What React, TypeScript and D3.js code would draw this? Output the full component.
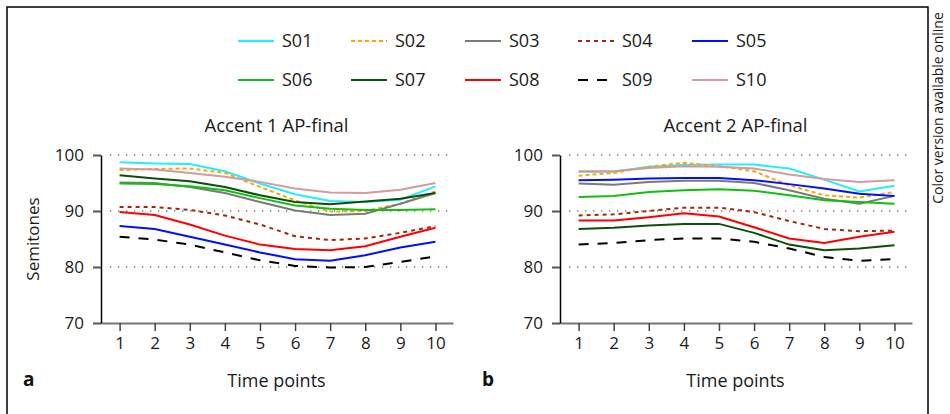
import * as React from 'react';
import * as d3 from 'd3';

const timePoints = [1, 2, 3, 4, 5, 6, 7, 8, 9, 10];
const yTicks = [70, 80, 90, 100];
const gridTicks = [80, 90, 100];

const speakers = ['S01', 'S02', 'S03', 'S04', 'S05', 'S06', 'S07', 'S08', 'S09', 'S10'];
const colors = ['#22eeff', '#ffa500', '#7a7a7a', '#a0280a', '#0010ff', '#10c010', '#0a500a', '#ff0000', '#000000', '#d49a9e'];
const dashes = ['', '4,3', '', '4,4', '', '', '', '', '10,9', ''];

// Accent 1 AP-final
const accent1: number[][] = [
  [98.7, 98.5, 98.4, 97.1, 94.9, 93.0, 91.8, 91.6, 92.0, 94.4],
  [97.3, 97.5, 97.6, 96.8, 94.3, 91.9, 89.9, 90.0, 91.3, 93.5],
  [95.1, 95.0, 94.3, 93.2, 91.6, 90.1, 89.3, 89.5, 91.3, 93.2],
  [90.7, 90.7, 90.2, 89.2, 87.6, 85.5, 84.8, 85.1, 86.1, 87.3],
  [87.3, 86.8, 85.4, 84.0, 82.6, 81.4, 81.1, 82.1, 83.5, 84.5],
  [94.9, 94.8, 94.4, 93.7, 92.3, 91.0, 90.4, 90.2, 90.2, 90.3],
  [96.4, 95.8, 95.3, 94.3, 92.8, 91.6, 91.2, 91.7, 92.2, 93.2],
  [89.8, 89.3, 87.6, 85.6, 84.0, 83.2, 83.0, 83.7, 85.4, 87.0],
  [85.4, 84.9, 84.0, 82.6, 81.2, 80.2, 79.9, 80.0, 80.9, 81.9],
  [97.6, 97.4, 96.8, 96.1, 95.2, 94.0, 93.3, 93.2, 93.8, 95.0],
];

// Accent 2 AP-final
const accent2: number[][] = [
  [97.0, 97.0, 97.9, 98.2, 98.3, 98.3, 97.6, 95.6, 93.5, 94.5],
  [96.3, 96.8, 97.9, 98.6, 98.0, 97.1, 94.6, 92.8, 92.4, 93.4],
  [94.9, 94.7, 95.2, 95.4, 95.4, 95.0, 93.7, 92.2, 91.3, 92.7],
  [89.2, 89.4, 90.0, 90.6, 90.6, 89.8, 88.2, 86.8, 86.4, 86.5],
  [95.5, 95.6, 95.8, 95.9, 95.9, 95.5, 94.8, 94.0, 93.1, 92.7],
  [92.5, 92.7, 93.4, 93.7, 93.9, 93.6, 92.8, 91.9, 91.6, 91.3],
  [86.8, 87.0, 87.4, 87.7, 87.7, 86.1, 84.0, 83.0, 83.3, 83.9],
  [88.3, 88.3, 88.9, 89.6, 89.0, 87.1, 85.1, 84.3, 85.4, 86.3],
  [84.0, 84.3, 84.8, 85.1, 85.1, 84.5, 83.3, 81.8, 81.1, 81.4],
  [97.1, 97.1, 97.7, 98.0, 97.9, 97.6, 96.5, 95.7, 95.2, 95.5],
];

const FONT = '"Open Sans", "Noto Sans", sans-serif';
const INK = '#1a1a1a';
const legendCols = [238, 351, 465, 578, 692];
const legendRows = [41, 80];

function drawPanel(
  g: d3.Selection<SVGGElement, unknown, null, undefined>,
  left: number,
  values: number[][],
  title: string,
  letter: string,
  showYLabel: boolean,
) {
  const top = 155, bottom = 323, width = 352;
  const x = d3.scaleLinear().domain([0.47, 10.5]).range([left, left + width]);
  const y = d3.scaleLinear().domain([70, 100]).range([bottom, top]);

  // dotted grid
  g.selectAll('line.grid')
    .data(gridTicks)
    .join('line')
    .attr('class', 'grid')
    .attr('x1', left + 9)
    .attr('x2', left + width)
    .attr('y1', d => y(d))
    .attr('y2', d => y(d))
    .attr('stroke', '#333')
    .attr('stroke-width', 1.2)
    .attr('stroke-dasharray', '1.3,6.7');

  const xAxis = d3.axisBottom(x).tickValues(timePoints).tickSize(8).tickSizeOuter(0).tickPadding(6);
  g.append('g')
    .attr('transform', `translate(0,${bottom})`)
    .call(xAxis)
    .call(s => s.select('.domain').attr('stroke', '#777').attr('stroke-width', 2))
    .call(s => s.selectAll('.tick line').attr('stroke', '#444').attr('stroke-width', 1.5))
    .call(s => s.selectAll('.tick text').attr('font-family', FONT).attr('font-size', 17).attr('fill', INK));

  const yAxis = d3.axisLeft(y).tickValues(yTicks).tickSize(8).tickSizeOuter(0).tickPadding(9);
  g.append('g')
    .attr('transform', `translate(${left},0)`)
    .call(yAxis)
    .call(s => s.select('.domain').attr('stroke', '#000').attr('stroke-width', 1.5))
    .call(s => s.selectAll('.tick line').attr('stroke', '#555').attr('stroke-width', 2))
    .call(s => s.selectAll('.tick text').attr('font-family', FONT).attr('font-size', 17).attr('fill', INK));

  const line = d3.line<number>().x((_, i) => x(timePoints[i])).y(d => y(d));
  g.selectAll('path.series')
    .data(values)
    .join('path')
    .attr('class', 'series')
    .attr('fill', 'none')
    .attr('stroke', (_, i) => colors[i])
    .attr('stroke-width', 2)
    .attr('stroke-dasharray', (_, i) => dashes[i] || null)
    .attr('d', d => line(d));

  const cx = left + width / 2 - 0.5;
  g.append('text')
    .attr('x', cx)
    .attr('y', 132)
    .attr('text-anchor', 'middle')
    .attr('font-family', FONT)
    .attr('font-size', 18.5)
    .attr('fill', INK)
    .text(title);

  g.append('text')
    .attr('x', cx)
    .attr('y', 387)
    .attr('text-anchor', 'middle')
    .attr('font-family', FONT)
    .attr('font-size', 18)
    .attr('fill', INK)
    .text('Time points');

  g.append('text')
    .attr('x', left - 78)
    .attr('y', 386)
    .attr('font-family', FONT)
    .attr('font-size', 19)
    .attr('font-weight', 'bold')
    .attr('fill', '#111')
    .text(letter);

  if (showYLabel) {
    g.append('text')
      .attr('transform', `translate(${left - 62},${239}) rotate(-90)`)
      .attr('text-anchor', 'middle')
      .attr('font-family', FONT)
      .attr('font-size', 17)
      .attr('fill', INK)
      .text('Semitones');
  }
}

export default function App() {
  const ref = React.useRef<SVGSVGElement>(null);

  React.useEffect(() => {
    const svg = d3.select(ref.current);
    svg.selectAll('*').remove();

    svg.append('rect')
      .attr('x', 7).attr('y', 7)
      .attr('width', 921).attr('height', 420)
      .attr('fill', 'none').attr('stroke', '#000').attr('stroke-width', 1.5);

    // legend
    const legend = svg.append('g');
    speakers.forEach((name, i) => {
      const lx = legendCols[i % 5];
      const ly = legendRows[Math.floor(i / 5)];
      legend.append('line')
        .attr('x1', lx).attr('x2', lx + 36)
        .attr('y1', ly).attr('y2', ly)
        .attr('stroke', colors[i])
        .attr('stroke-width', 2)
        .attr('stroke-dasharray', dashes[i] || null);
      legend.append('text')
        .attr('x', lx + 44)
        .attr('y', ly)
        .attr('dy', '0.35em')
        .attr('font-family', FONT)
        .attr('font-size', 18)
        .attr('fill', INK)
        .text(name);
    });

    drawPanel(svg.append('g'), 101, accent1, 'Accent 1 AP-final', 'a', true);
    drawPanel(svg.append('g'), 560, accent2, 'Accent 2 AP-final', 'b', false);

    svg.append('text')
      .attr('transform', 'translate(943,108) rotate(-90)')
      .attr('text-anchor', 'middle')
      .attr('font-family', FONT)
      .attr('font-size', 14)
      .attr('fill', INK)
      .text('Color version available online');
  }, []);

  return (
    <svg
      ref={ref}
      width={950}
      height={414}
      style={{ position: 'absolute', left: 0, top: 0, background: '#fff' }}
    />
  );
}
